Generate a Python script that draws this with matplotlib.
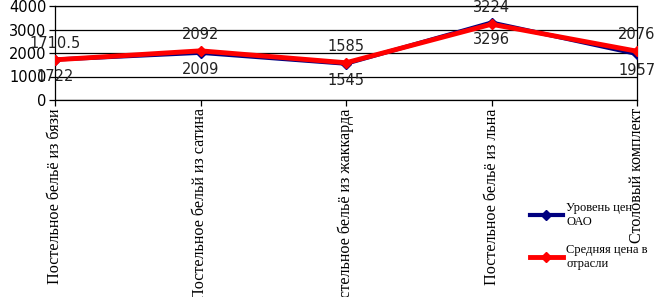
import matplotlib
matplotlib.use('Agg')
import matplotlib.pyplot as plt

categories = [
    'Постельное бельё из бязи',
    'Постельное бельй из сатина',
    'Постельное бельё из жаккарда',
    'Постельное бельё из льна',
    'Столовый комплект',
]
oao_prices = [1722, 2009, 1545, 3296, 1957]
industry_prices = [1710.5, 2092, 1585, 3224, 2076]
series_names = ['Уровень цен\nОАО', 'Средняя цена в\nотрасли']
y_ticks = [0, 1000, 2000, 3000, 4000]

SERIF = ['Liberation Serif', 'DejaVu Serif']

fig = plt.figure(figsize=(6.58, 2.97), dpi=100)
ax = fig.add_axes([55 / 658, 1 - 100 / 297, (637 - 55) / 658, 94 / 297])

x = list(range(len(categories)))
ax.plot(x, oao_prices, color='#000080', linewidth=3, marker='D', markersize=5,
        label=series_names[0], zorder=3)
ax.plot(x, industry_prices, color='#ff0000', linewidth=3.5, marker='D', markersize=5,
        label=series_names[1], zorder=4)

# value labels: industry above, OAO below
for xi, v in zip(x, industry_prices):
    ax.annotate(f'{v:g}', (xi, v), textcoords='offset points', xytext=(0, 12),
                ha='center', va='center', fontsize=10.5, color='#222222',
                annotation_clip=False, zorder=5)
for xi, v in zip(x, oao_prices):
    ax.annotate(f'{v:g}', (xi, v), textcoords='offset points', xytext=(0, -12),
                ha='center', va='center', fontsize=10.5, color='#222222',
                annotation_clip=False, zorder=5)

ax.set_xlim(0, len(categories) - 1)
ax.set_ylim(0, 4000)
ax.set_yticks(y_ticks)
ax.set_yticklabels([str(t) for t in y_ticks], fontsize=10.5)
ax.yaxis.grid(True, color='black', linewidth=0.9)
ax.set_axisbelow(True)

ax.set_xticks(x)
ax.set_xticklabels(categories, rotation=90, va='top', ha='center',
                   family=SERIF, fontsize=11.6)
ax.tick_params(axis='both', direction='out', length=4, width=0.9, pad=2)
for s in ax.spines.values():
    s.set_color('black')
    s.set_linewidth(0.9)

fig.legend(loc='upper left', bbox_to_anchor=(525 / 658, 1 - 197 / 297),
           frameon=False, prop={'family': SERIF, 'size': 9},
           handlelength=2.6, handletextpad=0.3, labelspacing=1.3, borderaxespad=0)

plt.savefig('out.png', dpi=100)
